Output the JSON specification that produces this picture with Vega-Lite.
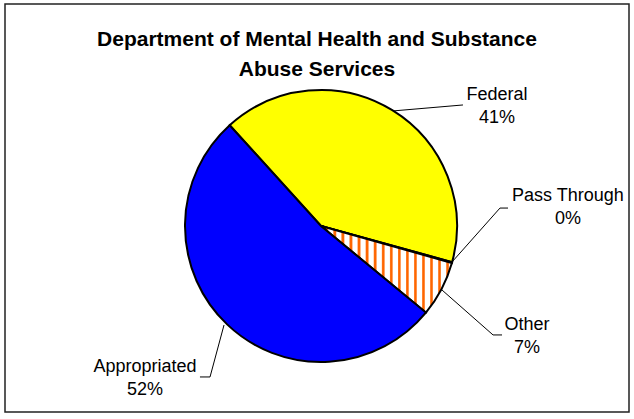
{
  "$schema": "https://vega.github.io/schema/vega-lite/v6.json",
  "width": 624,
  "height": 408,
  "autosize": {"type": "none"},
  "padding": {"left": 5, "top": 4, "right": 5, "bottom": 7},
  "background": "white",
  "title": {
    "text": ["Department of Mental Health and Substance", "Abuse Services"],
    "frame": "group",
    "anchor": "middle",
    "orient": "top",
    "offset": -76,
    "font": "Liberation Sans",
    "fontSize": 21,
    "fontWeight": "bold",
    "lineHeight": 30,
    "color": "black"
  },
  "config": {"view": {"stroke": "#222222", "strokeWidth": 1.5}},
  "datasets": {
    "slices": [
      {"source": "Federal", "share": 0.41, "ord": 1, "lx": 1.294, "ly": 0.926},
      {"source": "Pass Through", "share": 0.001, "ord": 2, "lx": 1.816, "ly": 0.184},
      {"source": "Other", "share": 0.066, "ord": 3, "lx": 1.515, "ly": -0.765},
      {"source": "Appropriated", "share": 0.523, "ord": 4, "lx": -1.294, "ly": -1.074}
    ],
    "leaders": [
      {"source": "Federal", "seq": 1, "x": 0.529, "y": 0.846},
      {"source": "Federal", "seq": 2, "x": 1.044, "y": 0.89},
      {"source": "Pass Through", "seq": 1, "x": 0.963, "y": -0.265},
      {"source": "Pass Through", "seq": 2, "x": 1.316, "y": 0.132},
      {"source": "Pass Through", "seq": 3, "x": 1.375, "y": 0.132},
      {"source": "Other", "seq": 1, "x": 0.89, "y": -0.471},
      {"source": "Other", "seq": 2, "x": 1.265, "y": -0.801},
      {"source": "Other", "seq": 3, "x": 1.331, "y": -0.801},
      {"source": "Appropriated", "seq": 1, "x": -0.713, "y": -0.728},
      {"source": "Appropriated", "seq": 2, "x": -0.816, "y": -1.11},
      {"source": "Appropriated", "seq": 3, "x": -0.89, "y": -1.11}
    ]
  },
  "layer": [
    {
      "data": {"name": "slices"},
      "mark": {"type": "arc", "radius": 136, "stroke": "black", "strokeWidth": 2},
      "encoding": {
        "theta": {"field": "share", "type": "quantitative", "stack": true, "scale": {"range": [-0.7365, 5.5467]}},
        "order": {"field": "ord", "type": "quantitative"},
        "x": {"datum": 0, "type": "quantitative", "scale": {"domain": [-2.3235, 2.2647], "nice": false, "zero": false}, "axis": null},
        "y": {"datum": 0, "type": "quantitative", "scale": {"domain": [-1.3676, 1.6324], "nice": false, "zero": false}, "axis": null},
        "fill": {
          "condition": [
            {"test": "datum.source === 'Federal'", "value": "#FFFF00"},
            {"test": "datum.source === 'Pass Through'", "value": "#000000"},
            {"test": "datum.source === 'Other'", "value": {
              "gradient": "linear", "x1": 0, "y1": 0, "x2": 1, "y2": 0,
              "stops": [
                {"offset": 0, "color": "#FFFFFF"},
                {"offset": 0.0308, "color": "#FFFFFF"}, {"offset": 0.0338, "color": "#FF9F5F"}, {"offset": 0.04, "color": "#FF6600"}, {"offset": 0.0492, "color": "#FF6600"}, {"offset": 0.0554, "color": "#FFB380"}, {"offset": 0.0585, "color": "#FFFFFF"},
                {"offset": 0.0923, "color": "#FFFFFF"}, {"offset": 0.0953, "color": "#FF9F5F"}, {"offset": 0.1015, "color": "#FF6600"}, {"offset": 0.1107, "color": "#FF6600"}, {"offset": 0.1169, "color": "#FFB380"}, {"offset": 0.12, "color": "#FFFFFF"},
                {"offset": 0.1539, "color": "#FFFFFF"}, {"offset": 0.1569, "color": "#FF9F5F"}, {"offset": 0.1631, "color": "#FF6600"}, {"offset": 0.1723, "color": "#FF6600"}, {"offset": 0.1785, "color": "#FFB380"}, {"offset": 0.1816, "color": "#FFFFFF"},
                {"offset": 0.2154, "color": "#FFFFFF"}, {"offset": 0.2184, "color": "#FF9F5F"}, {"offset": 0.2246, "color": "#FF6600"}, {"offset": 0.2338, "color": "#FF6600"}, {"offset": 0.24, "color": "#FFB380"}, {"offset": 0.2431, "color": "#FFFFFF"},
                {"offset": 0.277, "color": "#FFFFFF"}, {"offset": 0.28, "color": "#FF9F5F"}, {"offset": 0.2862, "color": "#FF6600"}, {"offset": 0.2954, "color": "#FF6600"}, {"offset": 0.3016, "color": "#FFB380"}, {"offset": 0.3047, "color": "#FFFFFF"},
                {"offset": 0.3385, "color": "#FFFFFF"}, {"offset": 0.3415, "color": "#FF9F5F"}, {"offset": 0.3477, "color": "#FF6600"}, {"offset": 0.3569, "color": "#FF6600"}, {"offset": 0.3631, "color": "#FFB380"}, {"offset": 0.3662, "color": "#FFFFFF"},
                {"offset": 0.4, "color": "#FFFFFF"}, {"offset": 0.403, "color": "#FF9F5F"}, {"offset": 0.4092, "color": "#FF6600"}, {"offset": 0.4184, "color": "#FF6600"}, {"offset": 0.4246, "color": "#FFB380"}, {"offset": 0.4277, "color": "#FFFFFF"},
                {"offset": 0.4616, "color": "#FFFFFF"}, {"offset": 0.4646, "color": "#FF9F5F"}, {"offset": 0.4708, "color": "#FF6600"}, {"offset": 0.48, "color": "#FF6600"}, {"offset": 0.4862, "color": "#FFB380"}, {"offset": 0.4893, "color": "#FFFFFF"},
                {"offset": 0.5231, "color": "#FFFFFF"}, {"offset": 0.5261, "color": "#FF9F5F"}, {"offset": 0.5323, "color": "#FF6600"}, {"offset": 0.5415, "color": "#FF6600"}, {"offset": 0.5477, "color": "#FFB380"}, {"offset": 0.5508, "color": "#FFFFFF"},
                {"offset": 0.5846, "color": "#FFFFFF"}, {"offset": 0.5876, "color": "#FF9F5F"}, {"offset": 0.5938, "color": "#FF6600"}, {"offset": 0.603, "color": "#FF6600"}, {"offset": 0.6092, "color": "#FFB380"}, {"offset": 0.6123, "color": "#FFFFFF"},
                {"offset": 0.6462, "color": "#FFFFFF"}, {"offset": 0.6492, "color": "#FF9F5F"}, {"offset": 0.6554, "color": "#FF6600"}, {"offset": 0.6646, "color": "#FF6600"}, {"offset": 0.6708, "color": "#FFB380"}, {"offset": 0.6739, "color": "#FFFFFF"},
                {"offset": 0.7077, "color": "#FFFFFF"}, {"offset": 0.7107, "color": "#FF9F5F"}, {"offset": 0.7169, "color": "#FF6600"}, {"offset": 0.7261, "color": "#FF6600"}, {"offset": 0.7323, "color": "#FFB380"}, {"offset": 0.7354, "color": "#FFFFFF"},
                {"offset": 0.7693, "color": "#FFFFFF"}, {"offset": 0.7723, "color": "#FF9F5F"}, {"offset": 0.7785, "color": "#FF6600"}, {"offset": 0.7877, "color": "#FF6600"}, {"offset": 0.7939, "color": "#FFB380"}, {"offset": 0.797, "color": "#FFFFFF"},
                {"offset": 0.8308, "color": "#FFFFFF"}, {"offset": 0.8338, "color": "#FF9F5F"}, {"offset": 0.84, "color": "#FF6600"}, {"offset": 0.8492, "color": "#FF6600"}, {"offset": 0.8554, "color": "#FFB380"}, {"offset": 0.8585, "color": "#FFFFFF"},
                {"offset": 0.8923, "color": "#FFFFFF"}, {"offset": 0.8953, "color": "#FF9F5F"}, {"offset": 0.9015, "color": "#FF6600"}, {"offset": 0.9107, "color": "#FF6600"}, {"offset": 0.9169, "color": "#FFB380"}, {"offset": 0.92, "color": "#FFFFFF"},
                {"offset": 0.9539, "color": "#FFFFFF"}, {"offset": 0.9569, "color": "#FF9F5F"}, {"offset": 0.9631, "color": "#FF6600"}, {"offset": 0.9723, "color": "#FF6600"}, {"offset": 0.9785, "color": "#FFB380"}, {"offset": 0.9816, "color": "#FFFFFF"},
                {"offset": 1, "color": "#FFFFFF"}
              ]
            }}
          ],
          "value": "#0000FF"
        }
      }
    },
    {
      "data": {"name": "leaders"},
      "mark": {"type": "line", "stroke": "black", "strokeWidth": 1},
      "encoding": {
        "x": {"field": "x", "type": "quantitative", "scale": {"domain": [-2.3235, 2.2647], "nice": false, "zero": false}, "axis": null},
        "y": {"field": "y", "type": "quantitative", "scale": {"domain": [-1.3676, 1.6324], "nice": false, "zero": false}, "axis": null},
        "detail": {"field": "source"},
        "order": {"field": "seq", "type": "quantitative"}
      }
    },
    {
      "data": {"name": "slices"},
      "mark": {"type": "text", "font": "Liberation Sans", "fontSize": 18, "align": "center", "baseline": "alphabetic", "color": "black"},
      "encoding": {
        "x": {"field": "lx", "type": "quantitative", "scale": {"domain": [-2.3235, 2.2647], "nice": false, "zero": false}, "axis": null},
        "y": {"field": "ly", "type": "quantitative", "scale": {"domain": [-1.3676, 1.6324], "nice": false, "zero": false}, "axis": null},
        "text": {"field": "source"}
      }
    },
    {
      "data": {"name": "slices"},
      "mark": {"type": "text", "font": "Liberation Sans", "fontSize": 18, "align": "center", "baseline": "alphabetic", "dy": 23, "color": "black"},
      "encoding": {
        "x": {"field": "lx", "type": "quantitative", "scale": {"domain": [-2.3235, 2.2647], "nice": false, "zero": false}, "axis": null},
        "y": {"field": "ly", "type": "quantitative", "scale": {"domain": [-1.3676, 1.6324], "nice": false, "zero": false}, "axis": null},
        "text": {"field": "share", "type": "quantitative", "format": ".0%"}
      }
    }
  ]
}
